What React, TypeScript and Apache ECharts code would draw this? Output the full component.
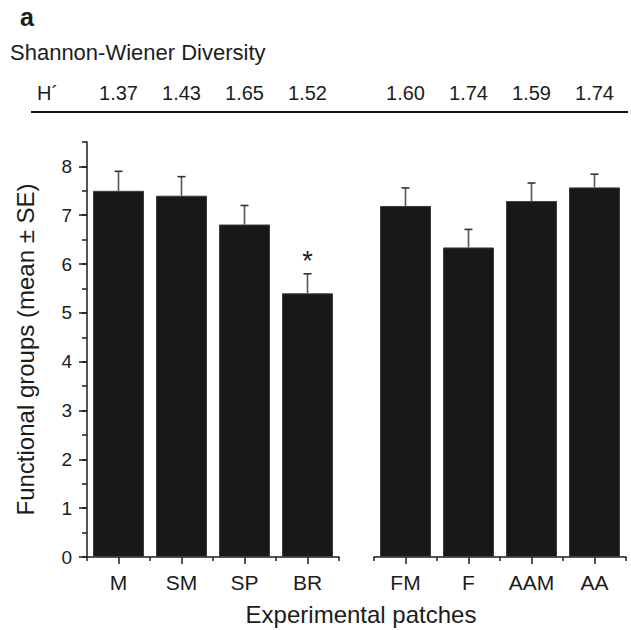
import React, { useEffect, useRef } from "react";
import * as echarts from "echarts";

const categoriesLeft = ["M", "SM", "SP", "BR"];
const categoriesRight = ["FM", "F", "AAM", "AA"];
const meansLeft = [7.5, 7.4, 6.81, 5.4];
const seLeft = [0.4, 0.39, 0.39, 0.4];
const meansRight = [7.19, 6.34, 7.29, 7.57];
const seRight = [0.37, 0.37, 0.37, 0.27];
const diversityLeft = ["1.37", "1.43", "1.65", "1.52"];
const diversityRight = ["1.60", "1.74", "1.59", "1.74"];
const significanceLeft = ["", "", "", "*"];
const significanceRight = ["", "", "", ""];
const yTicks = [0, 1, 2, 3, 4, 5, 6, 7, 8];

const FONT = "'Liberation Sans', Arial, Helvetica, sans-serif";
const INK = "#1c1c1c";

function errorRender(sig: string[]) {
  return (params: any, api: any) => {
    const x = api.value(0);
    const m = api.value(1);
    const se = api.value(2);
    const base = api.coord([x, m]);
    const top = api.coord([x, m + se]);
    const children: any[] = [
      {
        type: "line",
        shape: { x1: base[0], y1: base[1], x2: top[0], y2: top[1] },
        style: { stroke: "#555", lineWidth: 1.6 },
      },
      {
        type: "line",
        shape: { x1: top[0] - 4, y1: top[1], x2: top[0] + 4, y2: top[1] },
        style: { stroke: "#333", lineWidth: 1.6 },
      },
    ];
    const s = sig[params.dataIndex];
    if (s) {
      children.push({
        type: "text",
        x: top[0],
        y: top[1] - 13,
        style: {
          text: s,
          fill: INK,
          fontSize: 27,
          fontFamily: FONT,
          textAlign: "center",
          textVerticalAlign: "middle",
        },
      });
    }
    return { type: "group", children };
  };
}

export default function App() {
  const ref = useRef<HTMLDivElement>(null);

  useEffect(() => {
    if (!ref.current) return;
    const chart = echarts.init(ref.current, undefined, { renderer: "svg" });

    const mainX = (cats: string[], grid: number) => ({
      type: "category",
      gridIndex: grid,
      position: "bottom",
      data: cats,
      axisLine: { show: true, lineStyle: { color: INK, width: 1.5 } },
      axisTick: { show: true, alignWithLabel: true, length: 7, interval: 0, lineStyle: { color: INK, width: 1.5 } },
      axisLabel: { show: true, interval: 0, margin: 15, fontSize: 21, color: INK, fontFamily: FONT },
      splitLine: { show: false },
    });
    const boundaryX = (cats: string[], grid: number) => ({
      type: "category",
      gridIndex: grid,
      position: "bottom",
      data: cats,
      axisLine: { show: false },
      axisTick: { show: true, alignWithLabel: false, length: 4, interval: 0, lineStyle: { color: INK, width: 1.5 } },
      axisLabel: { show: false },
      splitLine: { show: false },
    });
    const topX = (cats: string[], labels: string[], grid: number) => ({
      type: "category",
      gridIndex: grid,
      position: "top",
      data: cats,
      axisLine: { show: false },
      axisTick: { show: false },
      axisLabel: {
        show: true,
        interval: 0,
        margin: 39,
        fontSize: 20,
        color: INK,
        fontFamily: FONT,
        formatter: (_v: string, i: number) => labels[i],
      },
      splitLine: { show: false },
    });

    const option: any = {
      animation: false,
      backgroundColor: "#fff",
      grid: [
        { left: 87, top: 142, width: 252, height: 415, containLabel: false },
        { left: 374, top: 142, width: 252, height: 415, containLabel: false },
      ],
      xAxis: [
        mainX(categoriesLeft, 0),
        boundaryX(categoriesLeft, 0),
        mainX(categoriesRight, 1),
        boundaryX(categoriesRight, 1),
        topX(categoriesLeft, diversityLeft, 0),
        topX(categoriesRight, diversityRight, 1),
      ],
      yAxis: [
        {
          type: "value",
          gridIndex: 0,
          position: "left",
          min: 0,
          max: 8.5,
          interval: 1,
          name: "Functional groups (mean ± SE)",
          nameLocation: "middle",
          nameGap: 50,
          nameTextStyle: { fontSize: 24, color: INK, fontFamily: FONT },
          axisLine: { show: true, lineStyle: { color: INK, width: 1.5 } },
          axisTick: { show: true, length: 8, customValues: yTicks, lineStyle: { color: INK, width: 1.5 } },
          axisLabel: {
            show: true,
            margin: 15,
            fontSize: 19,
            color: INK,
            fontFamily: FONT,
            customValues: yTicks,
            formatter: (v: number) => (Number.isInteger(v) ? String(v) : ""),
          },
          splitLine: { show: false },
        },
        {
          type: "value",
          gridIndex: 0,
          position: "left",
          min: 0,
          max: 8.5,
          interval: 0.5,
          axisLine: { show: false },
          axisTick: { show: true, length: 5, lineStyle: { color: INK, width: 1.5 } },
          axisLabel: { show: false },
          splitLine: { show: false },
        },
        {
          type: "value",
          gridIndex: 1,
          position: "left",
          min: 0,
          max: 8.5,
          show: false,
          splitLine: { show: false },
        },
      ],
      series: [
        {
          type: "bar",
          xAxisIndex: 0,
          yAxisIndex: 0,
          barWidth: 51,
          data: meansLeft,
          itemStyle: { color: "#181818", borderColor: "#3c3c3c", borderWidth: 1 },
        },
        {
          type: "bar",
          xAxisIndex: 2,
          yAxisIndex: 2,
          barWidth: 51,
          data: meansRight,
          itemStyle: { color: "#181818", borderColor: "#3c3c3c", borderWidth: 1 },
        },
        {
          type: "custom",
          xAxisIndex: 0,
          yAxisIndex: 0,
          z: 5,
          data: meansLeft.map((m, i) => [i, m, seLeft[i]]),
          renderItem: errorRender(significanceLeft),
        },
        {
          type: "custom",
          xAxisIndex: 2,
          yAxisIndex: 2,
          z: 5,
          data: meansRight.map((m, i) => [i, m, seRight[i]]),
          renderItem: errorRender(significanceRight),
        },
      ],
      graphic: [
        {
          type: "text",
          x: 20,
          y: 17,
          style: {
            text: "a",
            fill: INK,
            fontSize: 25,
            fontWeight: "bold",
            fontFamily: FONT,
            textAlign: "left",
            textVerticalAlign: "middle",
          },
        },
        {
          type: "text",
          x: 10,
          y: 52,
          style: {
            text: "Shannon-Wiener Diversity",
            fill: INK,
            fontSize: 22,
            fontFamily: FONT,
            textAlign: "left",
            textVerticalAlign: "middle",
          },
        },
        {
          type: "text",
          x: 37,
          y: 93,
          style: {
            text: "H´",
            fill: INK,
            fontSize: 20,
            fontFamily: FONT,
            textAlign: "left",
            textVerticalAlign: "middle",
          },
        },
        {
          type: "line",
          shape: { x1: 31, y1: 112, x2: 628, y2: 112 },
          style: { stroke: "#111", lineWidth: 2 },
        },
        {
          type: "text",
          x: 361,
          y: 614,
          style: {
            text: "Experimental patches",
            fill: INK,
            fontSize: 24,
            fontFamily: FONT,
            textAlign: "center",
            textVerticalAlign: "middle",
          },
        },
      ],
    };

    chart.setOption(option);
    return () => chart.dispose();
  }, []);

  return (
    <div
      ref={ref}
      style={{ position: "absolute", left: 0, top: 0, width: 631, height: 630, background: "#fff" }}
    />
  );
}
